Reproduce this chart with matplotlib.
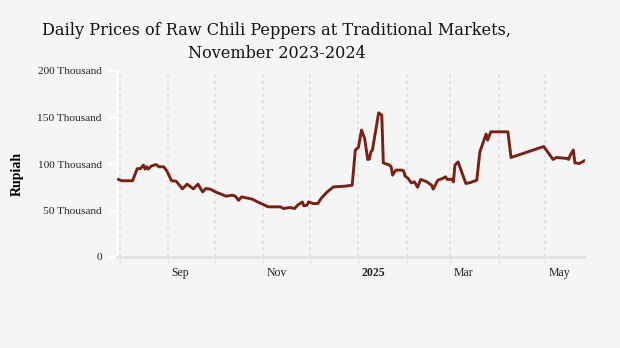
# daily chili price line chart, Aug 2024 - May 2025
import matplotlib
matplotlib.use('Agg')
from matplotlib import pyplot as plt
import matplotlib.dates as mdates
from matplotlib.transforms import ScaledTranslation
from datetime import datetime

title = 'Daily Prices of Raw Chili Peppers at Traditional Markets,\nNovember 2023-2024'

dates = [
    '2024-07-31', '2024-08-02', '2024-08-09', '2024-08-12', '2024-08-14', '2024-08-16',
    '2024-08-17', '2024-08-18', '2024-08-19', '2024-08-21', '2024-08-24', '2024-08-26',
    '2024-08-29', '2024-08-31', '2024-09-03', '2024-09-06', '2024-09-10', '2024-09-13',
    '2024-09-17', '2024-09-20', '2024-09-23', '2024-09-25', '2024-09-28', '2024-10-02',
    '2024-10-05', '2024-10-08', '2024-10-12', '2024-10-14', '2024-10-16', '2024-10-18',
    '2024-10-23', '2024-10-25', '2024-10-29', '2024-11-01', '2024-11-04', '2024-11-12',
    '2024-11-14', '2024-11-18', '2024-11-21', '2024-11-23', '2024-11-26', '2024-11-27',
    '2024-11-29', '2024-11-30', '2024-12-03', '2024-12-06', '2024-12-08', '2024-12-12',
    '2024-12-16', '2024-12-23', '2024-12-28', '2024-12-30', '2024-12-31', '2025-01-01',
    '2025-01-03', '2025-01-05', '2025-01-07', '2025-01-08', '2025-01-09', '2025-01-10',
    '2025-01-14', '2025-01-16', '2025-01-17', '2025-01-21', '2025-01-22', '2025-01-23',
    '2025-01-25', '2025-01-29', '2025-01-30', '2025-01-31', '2025-02-02', '2025-02-04',
    '2025-02-06', '2025-02-08', '2025-02-10', '2025-02-14', '2025-02-17', '2025-02-18',
    '2025-02-21', '2025-02-24', '2025-02-26', '2025-02-27', '2025-03-02', '2025-03-03',
    '2025-03-04', '2025-03-06', '2025-03-11', '2025-03-14', '2025-03-18', '2025-03-20',
    '2025-03-24', '2025-03-25', '2025-03-27', '2025-04-07', '2025-04-09', '2025-04-30',
    '2025-05-06', '2025-05-08', '2025-05-15', '2025-05-16', '2025-05-17', '2025-05-19',
    '2025-05-20', '2025-05-23', '2025-05-26',
]

prices = [
    83400, 82000, 82000, 95000, 95000, 98800,
    94500, 97000, 94500, 97700, 99500, 97000,
    97000, 92600, 82000, 81500, 73300, 78300,
    73300, 78300, 70000, 73600, 72900, 69400,
    67500, 65400, 66500, 65400, 61000, 64600,
    62900, 62100, 58600, 56400, 54000, 53900,
    52100, 53200, 52100, 55700, 59200, 55000,
    55700, 59200, 57500, 57500, 62900, 70000,
    75400, 76100, 77200, 115000, 116500, 117800,
    136500, 127500, 104900, 105200, 113000, 115000,
    155000, 152600, 101200, 98800, 97000, 88000,
    93400, 93400, 92600, 86900, 84400, 79700,
    80800, 75000, 83400, 80800, 77200, 72900,
    82600, 84400, 86200, 83400, 83700, 80800,
    98800, 102300, 79000, 80100, 82600, 113000,
    132200, 125700, 134600, 134600, 107000, 118800,
    104900, 107000, 106000, 104900, 109500, 115000,
    101200, 100600, 103400,
]

y_ticks = [0, 50000, 100000, 150000, 200000]
y_labels = ['0', '50 Thousand', '100 Thousand', '150 Thousand', '200 Thousand']

bg = '#f5f5f5'
line_color = '#7a2115'
serif = ['Liberation Serif', 'DejaVu Serif']

W, H = 620, 348
fig = plt.figure(figsize=(W / 100, H / 100), dpi=100)
fig.patch.set_facecolor(bg)
ax = fig.add_axes([117 / W, 1 - 257 / H, (585 - 117) / W, (257 - 71) / H])
ax.set_facecolor(bg)

x = [datetime.strptime(d, '%Y-%m-%d') for d in dates]
ax.plot(x, prices, color=line_color, lw=2.1, solid_joinstyle='round', zorder=3)

ax.set_xlim(datetime(2024, 7, 30), datetime(2025, 5, 26, 12))
ax.set_ylim(0, 200000)

# month gridlines, labels every other month
ax.xaxis.set_major_locator(mdates.MonthLocator(bymonth=[1, 3, 5, 7, 9, 11]))
ax.xaxis.set_minor_locator(mdates.MonthLocator())

def month_fmt(v, pos=None):
    d = mdates.num2date(v)
    return str(d.year) if d.month == 1 else d.strftime('%b')

ax.xaxis.set_major_formatter(plt.FuncFormatter(month_fmt))
ax.grid(True, which='both', axis='x', color='#e0e0e0', lw=1.2, linestyle=(0, (2, 2)))
ax.grid(False, axis='y')

ax.tick_params(axis='x', which='both', direction='out', length=4, width=1,
               color='#e2e2e2', pad=3, labelsize=8.5, labelcolor='#222222')
ax.tick_params(axis='y', direction='out', length=6, width=1.5, color='white',
               pad=5, labelsize=8.2, labelcolor='#222222')

ax.set_yticks(y_ticks)
ax.set_yticklabels(y_labels, family=serif)

fig.canvas.draw()
offset = ScaledTranslation(3 / 100, 0, fig.dpi_scale_trans)
for lab in ax.get_xticklabels():
    lab.set_family(serif)
    lab.set_ha('left')
    lab.set_transform(lab.get_transform() + offset)
    if lab.get_text() == '2025':
        lab.set_fontweight('bold')

for side in ['top', 'right']:
    ax.spines[side].set_visible(False)
ax.spines['left'].set_color('white')
ax.spines['left'].set_linewidth(2)
ax.spines['bottom'].set_color('#e4e4e4')
ax.spines['bottom'].set_linewidth(2)

ax.set_ylabel('Rupiah', family=serif, fontweight='bold', fontsize=10)
ax.yaxis.set_label_coords(24 / W, 0.5, transform=fig.transFigure)

fig.text(277 / W, 1 - 22 / H, title, ha='center', va='top', family='DejaVu Serif',
         fontsize=11.6, linespacing=1.45, color='#111111')

fig.savefig('out.png', dpi=100, facecolor=bg)
